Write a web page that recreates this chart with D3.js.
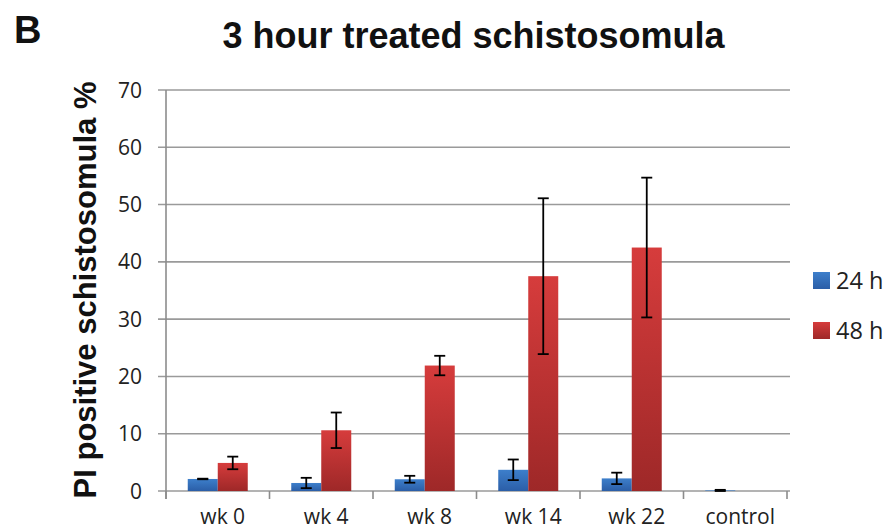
<!DOCTYPE html>
<html><head><meta charset="utf-8">
<script src="https://cdn.jsdelivr.net/npm/d3@7"></script>
<style>body{margin:0;background:#fff}svg{display:block}</style>
</head><body>
<script>
const categories = ["wk 0","wk 4","wk 8","wk 14","wk 22","control"];
const seriesNames = ["24 h","48 h"];
const values24 = [2.1, 1.4, 2.05, 3.7, 2.2, 0.1];
const err24    = [0.05, 0.9, 0.6, 1.8, 1.0, 0.1];
const values48 = [4.9, 10.6, 21.9, 37.5, 42.5, 0.0];
const err48    = [1.1, 3.1, 1.7, 13.6, 12.2, 0.0];
const yTicks = [0,10,20,30,40,50,60,70];

(function(){
const W = 893, H = 531;
const svg = d3.select("body").append("svg").attr("width", W).attr("height", H);
const defs = svg.append("defs");
const gradB = defs.append("linearGradient").attr("id","gb").attr("x1",0).attr("y1",0).attr("x2",0).attr("y2",1);
gradB.append("stop").attr("offset","0%").attr("stop-color","#3d7fcb");
gradB.append("stop").attr("offset","100%").attr("stop-color","#2b5ea7");
const gradR = defs.append("linearGradient").attr("id","gr").attr("x1",0).attr("y1",0).attr("x2",0).attr("y2",1);
gradR.append("stop").attr("offset","0%").attr("stop-color","#d63c3c");
gradR.append("stop").attr("offset","100%").attr("stop-color","#9e2828");

const pL = 166, pR = 787, pT = 90, pB = 491;
const x = d3.scaleBand().domain(categories).range([pL, pR]);
const y = d3.scaleLinear().domain([0,70]).range([pB, pT]);
const barW = 30;

svg.append("g").selectAll("line").data(yTicks).join("line")
  .attr("x1", pL - 8).attr("x2", 790)
  .attr("y1", d => y(d)).attr("y2", d => y(d))
  .attr("stroke", "#9a9a9a").attr("stroke-width", 1.6);

svg.append("line").attr("x1", pL).attr("x2", pL).attr("y1", pT).attr("y2", pB + 8)
  .attr("stroke", "#8c8c8c").attr("stroke-width", 1.6);

const tickXs = categories.map(c => x(c)).concat([pR]);
svg.append("g").selectAll("line").data(tickXs).join("line")
  .attr("x1", d => d).attr("x2", d => d)
  .attr("y1", pB).attr("y2", pB + 8)
  .attr("stroke", "#8c8c8c").attr("stroke-width", 1.6);

svg.append("g").selectAll("text").data(yTicks).join("text")
  .attr("x", 142).attr("y", d => y(d)).attr("dy", "0.36em")
  .attr("text-anchor", "end").attr("font-family", "Open Sans")
  .attr("font-size", 21).attr("fill", "#222").text(d => d);

svg.append("g").selectAll("text").data(categories).join("text")
  .attr("x", d => x(d) + x.bandwidth()/2 + 5).attr("y", 524)
  .attr("text-anchor", "middle").attr("font-family", "Open Sans")
  .attr("font-size", 21).attr("fill", "#222").text(d => d);

const series = [
  {vals: values24, errs: err24, fill: "url(#gb)", off: -barW},
  {vals: values48, errs: err48, fill: "url(#gr)", off: 0}
];
series.forEach(s => {
  svg.append("g").selectAll("rect").data(categories).join("rect")
    .attr("x", d => x(d) + x.bandwidth()/2 + s.off)
    .attr("y", (d,i) => y(s.vals[i]))
    .attr("width", barW)
    .attr("height", (d,i) => y(0) - y(s.vals[i]))
    .attr("fill", s.fill);
});
series.forEach(s => {
  const g = svg.append("g").attr("stroke", "#000").attr("stroke-width", 1.8);
  categories.forEach((c,i) => {
    const v = s.vals[i], e = s.errs[i];
    if (e <= 0 && v <= 0) return;
    const cx = x(c) + x.bandwidth()/2 + s.off + barW/2;
    const lo = Math.max(0, v - e), hi = v + e;
    g.append("line").attr("x1", cx).attr("x2", cx).attr("y1", y(hi)).attr("y2", y(lo));
    g.append("line").attr("x1", cx-5.5).attr("x2", cx+5.5).attr("y1", y(hi)).attr("y2", y(hi));
    g.append("line").attr("x1", cx-5.5).attr("x2", cx+5.5).attr("y1", y(lo)).attr("y2", y(lo));
  });
});

seriesNames.forEach((n,i) => {
  const ly = 272 + i*50;
  svg.append("rect").attr("x", 813).attr("y", ly).attr("width", 17).attr("height", 17)
    .attr("fill", i === 0 ? "url(#gb)" : "url(#gr)");
  svg.append("text").attr("x", 836).attr("y", ly + 16.5)
    .attr("font-family", "Open Sans").attr("font-size", 23.5).attr("fill", "#222").text(n);
});

svg.append("text").attr("x", 473.5).attr("y", 48).attr("text-anchor", "middle")
  .attr("font-family", "Liberation Sans").attr("font-weight", "bold")
  .attr("font-size", 36).attr("fill", "#111").text("3 hour treated schistosomula");
svg.append("text").attr("x", 14).attr("y", 43)
  .attr("font-family", "Liberation Sans").attr("font-weight", "bold")
  .attr("font-size", 38).attr("fill", "#111").text("B");

svg.append("text").attr("transform", "translate(96,290) rotate(-90)").attr("text-anchor", "middle")
  .attr("font-family", "Liberation Sans").attr("font-weight", "bold")
  .attr("font-size", 31).attr("fill", "#111").text("PI positive schistosomula %");
})();
</script>
</body></html>
